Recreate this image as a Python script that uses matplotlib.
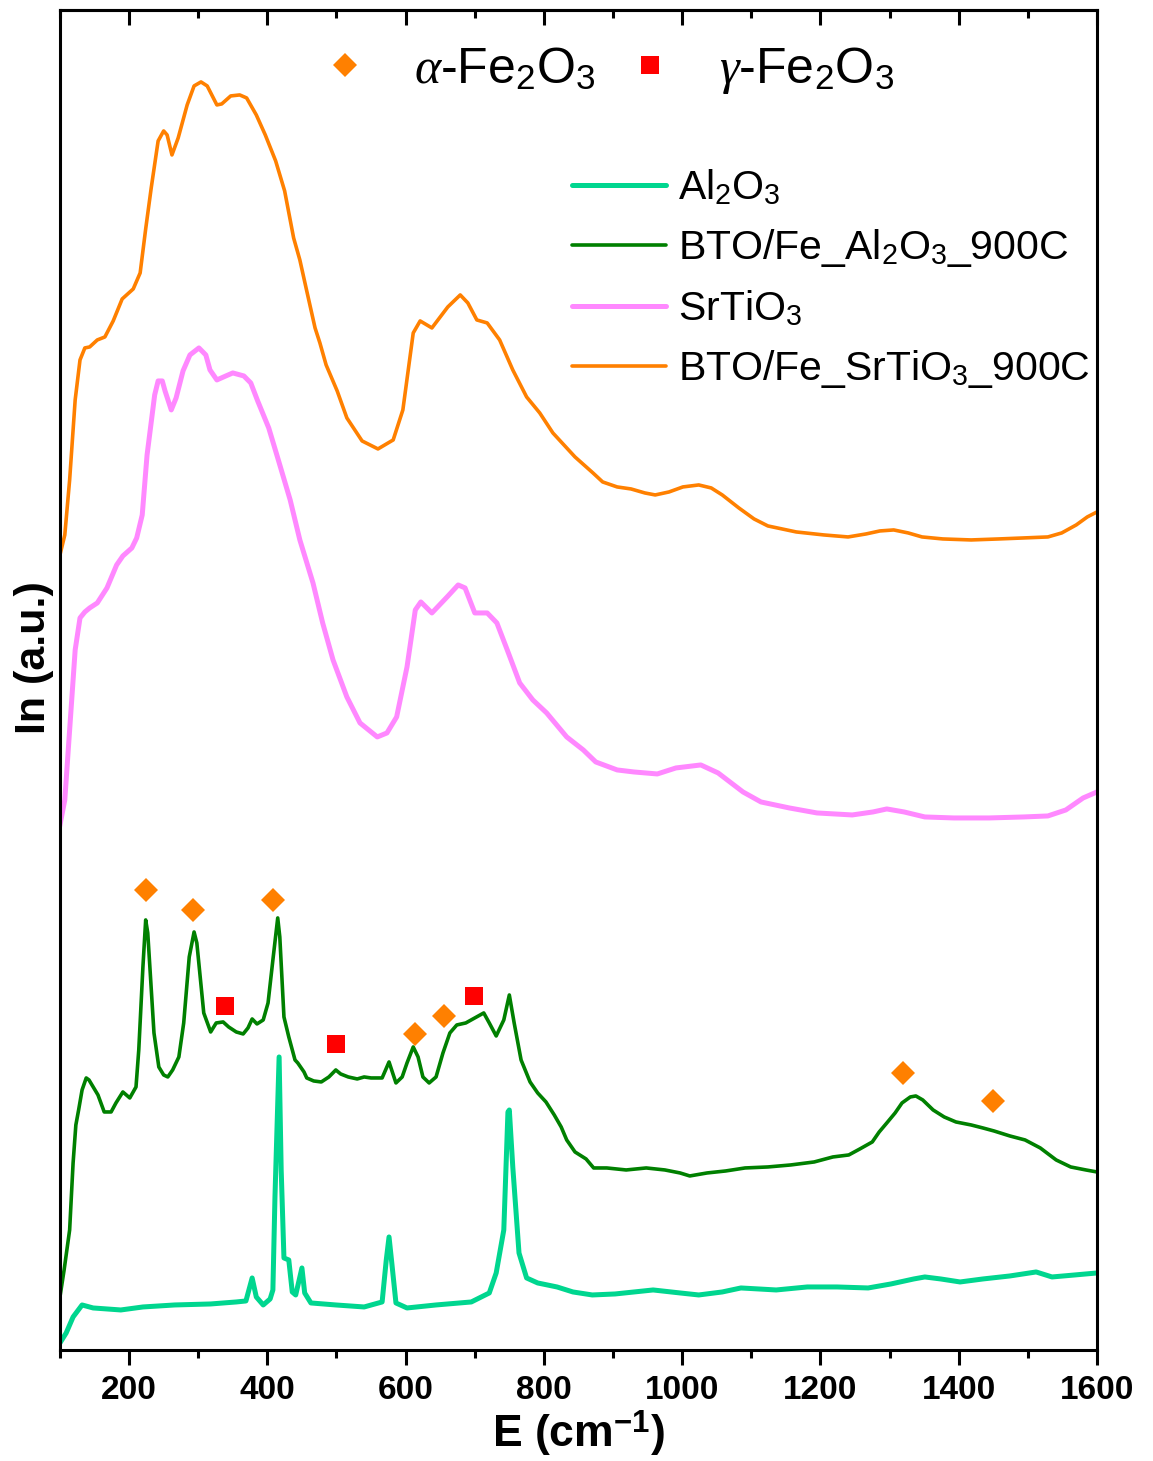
import matplotlib
matplotlib.use("Agg")
import matplotlib.pyplot as plt
from matplotlib.lines import Line2D
from matplotlib.ticker import MultipleLocator, NullLocator

plt.rcParams["font.family"] = ["Liberation Sans", "DejaVu Sans"]
plt.rcParams["mathtext.fontset"] = "custom"
plt.rcParams["mathtext.rm"] = "Liberation Sans"
plt.rcParams["mathtext.it"] = "Liberation Serif:italic"
plt.rcParams["mathtext.bf"] = "Liberation Sans:bold"

# Raman spectra (stacked, arbitrary intensity units)
orange_x = [100, 107, 114, 122, 129, 136, 143, 154, 165, 177, 190, 206, 216, 224, 232, 242, 250, 255, 262, 271,
            284, 294, 304, 313, 327, 334, 347, 360, 370, 384, 397, 412, 425, 438, 447, 456, 469, 476, 485, 501,
            515, 537, 560, 582, 596, 611, 621, 638, 661, 679, 690, 703, 718, 736, 755, 775, 794, 813, 845, 871,
            885, 906, 926, 946, 961, 981, 1001, 1024, 1042, 1058, 1082, 1104, 1124, 1165, 1205, 1240, 1266, 1286,
            1306, 1327, 1347, 1377, 1418, 1458, 1494, 1529, 1549, 1570, 1586, 1600]
orange_y = [795, 815, 870, 950, 990, 1002, 1003, 1010, 1013, 1029, 1051, 1061, 1077, 1121, 1162, 1209, 1219, 1215,
            1195, 1212, 1245, 1264, 1268, 1264, 1245, 1246, 1254, 1255, 1252, 1235, 1215, 1189, 1159, 1112, 1090,
            1062, 1022, 1007, 985, 959, 932, 909, 901, 910, 940, 1017, 1029, 1022, 1043, 1055, 1047, 1030, 1027,
            1010, 980, 953, 937, 917, 893, 877, 868, 863, 861, 857, 855, 858, 863, 865, 862, 855, 842, 831, 824,
            818, 815, 813, 816, 819, 820, 817, 813, 811, 810, 811, 812, 813, 817, 825, 833, 838]

pink_x = [100, 107, 114, 122, 129, 136, 143, 154, 168, 182, 191, 204, 211, 219, 226, 237, 242, 248, 252, 261,
          268, 278, 288, 301, 311, 317, 327, 340, 350, 366, 376, 386, 402, 415, 433, 447, 466, 480, 495, 515,
          534, 559, 573, 587, 602, 614, 622, 638, 660, 676, 686, 700, 718, 732, 747, 765, 784, 804, 833, 857,
          875, 906, 930, 964, 991, 1027, 1052, 1088, 1114, 1155, 1195, 1246, 1276, 1296, 1321, 1351, 1393, 1444,
          1494, 1529, 1555, 1580, 1600]
pink_y = [525, 550, 620, 700, 732, 738, 742, 747, 762, 785, 794, 802, 812, 835, 895, 955, 969, 969, 959, 940,
          952, 979, 995, 1002, 995, 980, 970, 974, 977, 974, 967, 949, 922, 892, 850, 810, 767, 727, 690, 653,
          627, 613, 617, 633, 683, 740, 748, 737, 753, 765, 762, 737, 737, 727, 700, 667, 650, 637, 613, 600,
          588, 580, 578, 576, 582, 585, 577, 558, 548, 542, 537, 535, 538, 541, 538, 533, 532, 532, 533, 534,
          540, 552, 558]

green_x = [100, 106, 114, 119, 123, 127, 132, 138, 142, 148, 155, 164, 174, 181, 191, 201, 210, 214, 220, 224,
           227, 236, 243, 250, 256, 263, 272, 279, 287, 294, 298, 308, 318, 326, 336, 344, 355, 365, 372, 378,
           385, 394, 401, 408, 415, 418, 424, 431, 440, 444, 453, 457, 467, 478, 489, 499, 506, 517, 530, 540,
           550, 566, 576, 586, 595, 602, 611, 618, 625, 634, 644, 654, 664, 674, 687, 700, 713, 721, 731, 742,
           750, 757, 767, 780, 791, 803, 815, 825, 833, 845, 861, 872, 891, 919, 948, 975, 997, 1011, 1036, 1063,
           1091, 1124, 1157, 1191, 1218, 1241, 1257, 1275, 1285, 1296, 1308, 1318, 1330, 1338, 1348, 1363, 1379,
           1396, 1418, 1435, 1451, 1474, 1496, 1518, 1541, 1562, 1584, 1600]
green_y = [53, 80, 120, 187, 225, 240, 260, 272, 270, 263, 255, 238, 238, 247, 258, 252, 263, 300, 383, 430,
           417, 317, 283, 275, 273, 280, 293, 327, 393, 418, 407, 337, 318, 327, 328, 323, 318, 316, 322, 331,
           326, 330, 347, 390, 432, 413, 333, 313, 290, 287, 278, 272, 269, 268, 273, 280, 276, 273, 271, 273,
           272, 272, 288, 267, 273, 287, 303, 293, 273, 267, 273, 297, 317, 325, 327, 332, 337, 327, 314, 330,
           355, 327, 290, 268, 257, 248, 235, 223, 210, 198, 191, 182, 182, 180, 182, 180, 177, 174, 177, 179,
           182, 183, 185, 188, 193, 195, 201, 208, 218, 227, 237, 247, 253, 254, 250, 240, 233, 228, 225, 222,
           219, 214, 210, 202, 190, 183, 180, 178]

teal_x = [100, 109, 119, 132, 148, 188, 220, 266, 318, 355, 369, 378, 384, 394, 404, 408, 411, 417, 420, 424,
          431, 436, 441, 450, 454, 463, 499, 540, 566, 572, 576, 580, 586, 602, 644, 695, 721, 731, 742, 748,
          750, 755, 764, 775, 791, 819, 842, 870, 903, 958, 997, 1024, 1058, 1085, 1136, 1181, 1224, 1269, 1302,
          1335, 1351, 1374, 1402, 1435, 1474, 1512, 1535, 1568, 1600]
teal_y = [7, 17, 33, 45, 42, 40, 43, 45, 46, 48, 49, 72, 53, 45, 51, 60, 153, 293, 180, 92,
          90, 58, 55, 82, 57, 47, 45, 43, 48, 90, 113, 87, 47, 42, 45, 48, 57, 77, 120, 238,
          240, 183, 97, 72, 67, 63, 58, 55, 56, 60, 57, 55, 58, 62, 60, 63, 63, 62, 66,
          71, 73, 71, 68, 71, 74, 78, 73, 75, 77]

# Phase assignments on the BTO/Fe_Al2O3_900C spectrum
alpha_x = [225, 292, 408, 614, 655, 1319, 1450]
alpha_y = [460, 440, 450, 316, 334, 277, 249]
gamma_x = [339, 499, 699]
gamma_y = [344, 306, 354]

TEAL = "#00D68F"
GREEN = "#008000"
PINK = "#FF88FF"
ORANGE = "#FF8000"
RED = "#FF0000"

fig = plt.figure(figsize=(11.53, 14.61), dpi=100)
ax = fig.add_axes([0.052, 0.076, 0.8994, 0.9172])

l1, = ax.plot(teal_x, teal_y, color=TEAL, lw=3.6, label="Al$_2$O$_3$")
l2, = ax.plot(green_x, green_y, color=GREEN, lw=2.6, label="BTO/Fe_Al$_2$O$_3$_900C")
l3, = ax.plot(pink_x, pink_y, color=PINK, lw=3.6, label="SrTiO$_3$")
l4, = ax.plot(orange_x, orange_y, color=ORANGE, lw=2.6, label="BTO/Fe_SrTiO$_3$_900C")

ax.plot(alpha_x, alpha_y, linestyle="none", marker="D", color=ORANGE, markersize=12.5, markeredgewidth=0)
ax.plot(gamma_x, gamma_y, linestyle="none", marker="s", color=RED, markersize=13, markeredgewidth=0)

ax.set_xlim(100, 1600)
ax.set_ylim(0, 1340)

for s in ax.spines.values():
    s.set_linewidth(2.2)

ax.xaxis.set_major_locator(MultipleLocator(200))
ax.xaxis.set_minor_locator(MultipleLocator(100))
ax.yaxis.set_major_locator(NullLocator())
ax.yaxis.set_minor_locator(NullLocator())
ax.tick_params(axis="x", which="major", direction="out", length=11, width=2.2, pad=7, labelsize=24)
ax.tick_params(axis="x", which="minor", direction="out", length=5.5, width=2.2)
for lab in ax.get_xticklabels():
    lab.set_fontweight("bold")

top = ax.secondary_xaxis("top")
top.xaxis.set_major_locator(MultipleLocator(200))
top.xaxis.set_minor_locator(MultipleLocator(100))
top.tick_params(axis="x", which="major", direction="in", length=11, width=2.2, labeltop=False)
top.tick_params(axis="x", which="minor", direction="in", length=5.5, width=2.2)
top.spines["top"].set_linewidth(2.2)

ax.set_xlabel("E (cm$^{\\mathbf{-1}}$)", fontsize=32, fontweight="bold", labelpad=2)
ax.set_ylabel("In (a.u.)", fontsize=31, fontweight="bold")
ax.yaxis.set_label_coords(-0.006, 0.517)

leg_main = ax.legend(handles=[l1, l2, l3, l4], loc="upper left", bbox_to_anchor=(0.494, 0.882),
                     frameon=False, fontsize=29.5, handlelength=2.3, handletextpad=0.27,
                     labelspacing=0.48, borderpad=0, borderaxespad=0)
for h in leg_main.get_lines():
    h.set_solid_capstyle("round")
ax.add_artist(leg_main)

h_alpha = Line2D([], [], linestyle="none", marker="D", color=ORANGE, markersize=12.5, markeredgewidth=0)
h_gamma = Line2D([], [], linestyle="none", marker="s", color=RED, markersize=13, markeredgewidth=0)
ax.legend(handles=[h_alpha, h_gamma],
          labels=["$\\alpha$-Fe$_2$O$_3$", "$\\gamma$-Fe$_2$O$_3$"],
          loc="center", bbox_to_anchor=(0.5275, 0.955), ncol=2, frameon=False, fontsize=36,
          handlelength=1.0, handletextpad=0.88, columnspacing=0.58, borderpad=0)

fig.savefig("out.png", dpi=100)
